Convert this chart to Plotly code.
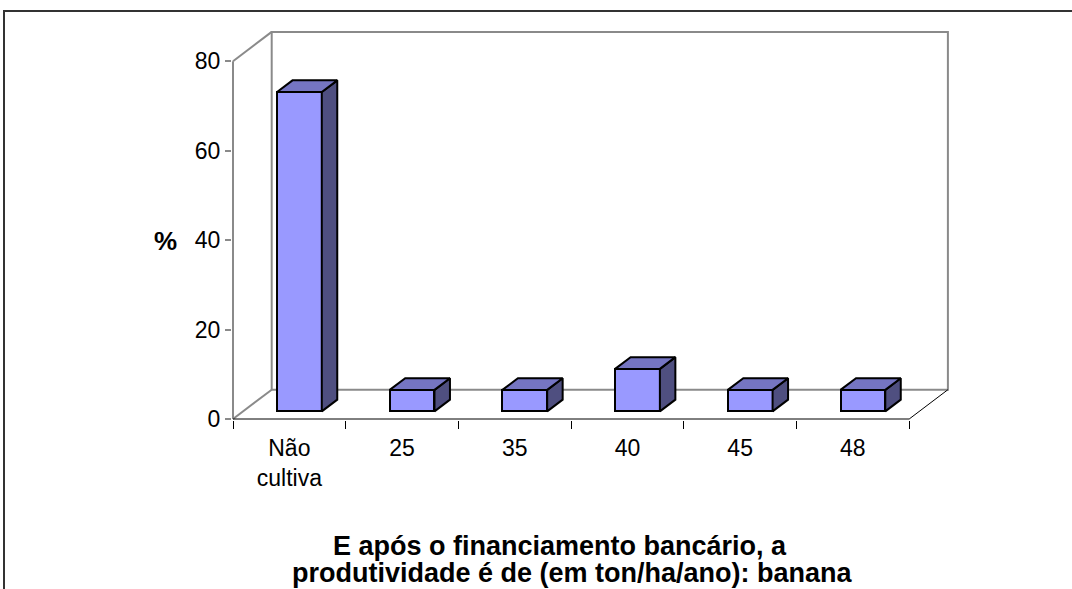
import numpy as np
import plotly.graph_objects as go

# ---- data ----
categories = ["Não<br>cultiva", "25", "35", "40", "45", "48"]
values = [71.4, 4.8, 4.8, 9.5, 4.8, 4.8]
y_ticks = [0, 20, 40, 60, 80]
title_lines = ["E após o financiamento bancário, a",
               "produtividade é de (em ton/ha/ano): banana"]
y_label = "%"

# ---- style / geometry ----
W, H = 1072, 589
PX_X = 112.7      # px per category
PX_Y = 4.4725     # px per % unit
L_PX, R_PX, T_PX, B_PX = 232, 1000, 25, 420
DX = 38.7 / PX_X   # wall depth (x units)
DY = 29.3 / PX_Y   # wall depth (y units)
F = 0.26           # bar front depth fraction
D = 0.40           # bar depth fraction
BW = 0.397         # bar width
FRONT = "#9999FF"
TOP = "#7575C2"
SIDE = "#4F4F80"
GRAY = "#8A8A8A"
FONT = "Liberation Sans, Arial, sans-serif"

n = len(categories)
xc = np.arange(n, dtype=float)
ymax = max(y_ticks)

x0_range = -0.5 - (233 - L_PX) / PX_X
x1_range = -0.5 + (R_PX - 233) / PX_X
y0_range = -(B_PX - 419) / PX_Y
y1_range = (419 - T_PX) / PX_Y


def px2paper_x(px):
    return (px - L_PX) / (R_PX - L_PX)


def px2paper_y(py):
    return (B_PX - py) / (B_PX - T_PX)


fig = go.Figure()

# side and top faces
base = F * DY
ddx, ddy = D * DX, D * DY
top_x, top_y, side_x, side_y = [], [], [], []
for i, v in enumerate(values):
    xa = xc[i] + F * DX - BW / 2
    xb = xa + BW
    t = base + v
    top_x += [xa, xb, xb + ddx, xa + ddx, xa, None]
    top_y += [t, t, t + ddy, t + ddy, t, None]
    side_x += [xb, xb, xb + ddx, xb + ddx, xb, None]
    side_y += [base, t, t + ddy, base + ddy, base, None]

fig.add_trace(go.Bar(
    x=xc + F * DX, y=values, base=base, width=BW,
    marker=dict(color=FRONT, line=dict(color="black", width=2)),
    hoverinfo="skip", showlegend=False))
fig.add_trace(go.Scatter(
    x=side_x, y=side_y, mode="lines", fill="toself", fillcolor=SIDE,
    line=dict(color="black", width=2), hoverinfo="skip", showlegend=False))
fig.add_trace(go.Scatter(
    x=top_x, y=top_y, mode="lines", fill="toself", fillcolor=TOP,
    line=dict(color="black", width=2), hoverinfo="skip", showlegend=False))

xl, xr = -0.5, n - 0.5
shapes = [
    # back wall
    dict(type="rect", xref="x", yref="y", x0=xl + DX, x1=xr + DX, y0=DY, y1=ymax + DY,
         line=dict(color=GRAY, width=2), layer="below"),
    # value axis line
    dict(type="line", xref="x", yref="y", x0=xl, x1=xl, y0=0, y1=ymax,
         line=dict(color=GRAY, width=2), layer="below"),
    dict(type="line", xref="x", yref="y", x0=xl, x1=xl + DX, y0=ymax, y1=ymax + DY,
         line=dict(color=GRAY, width=2), layer="below"),
    dict(type="line", xref="x", yref="y", x0=xl, x1=xl + DX, y0=0, y1=DY,
         line=dict(color=GRAY, width=2), layer="below"),
    # floor front and right edge
    dict(type="line", xref="x", yref="y", x0=xl, x1=xr, y0=0, y1=0,
         line=dict(color="black", width=1), layer="below"),
    dict(type="line", xref="x", yref="y", x0=xr, x1=xr + DX, y0=0, y1=DY,
         line=dict(color="black", width=1), layer="below"),
    # outer chart border
    dict(type="rect", xref="paper", yref="paper",
         x0=px2paper_x(4), x1=px2paper_x(1200), y0=px2paper_y(700), y1=px2paper_y(11),
         line=dict(color="#333333", width=2), layer="below"),
]

annotations = [
    dict(text="<b>%s</b>" % y_label, xref="paper", yref="paper",
         x=px2paper_x(165), y=px2paper_y(241), showarrow=False,
         xanchor="center", yanchor="middle",
         font=dict(family=FONT, size=26, color="black")),
    dict(text="<b>%s</b>" % title_lines[0], xref="paper", yref="paper",
         x=px2paper_x(560), y=px2paper_y(546), showarrow=False,
         xanchor="center", yanchor="middle",
         font=dict(family=FONT, size=27, color="black")),
    dict(text="<b>%s</b>" % title_lines[1], xref="paper", yref="paper",
         x=px2paper_x(572), y=px2paper_y(573), showarrow=False,
         xanchor="center", yanchor="middle",
         font=dict(family=FONT, size=27, color="black")),
]

fig.update_layout(
    width=W, height=H, autosize=False,
    margin=dict(l=L_PX, r=W - R_PX, t=T_PX, b=H - B_PX, pad=0),
    paper_bgcolor="white", plot_bgcolor="white",
    font=dict(family=FONT, size=23, color="black"),
    shapes=shapes, annotations=annotations,
    bargap=0, hovermode=False,
    xaxis=dict(range=[x0_range, x1_range], tickmode="array", tickvals=list(xc),
               ticktext=categories, ticks="", showgrid=False, zeroline=False,
               showline=False, ticklabelstandoff=12, automargin=False,
               tickfont=dict(family=FONT, size=23, color="black"),
               minor=dict(tickmode="array", tickvals=[xl + k for k in range(n + 1)],
                          ticks="outside", ticklen=8, tickcolor="black", tickwidth=1,
                          showgrid=False)),
    yaxis=dict(range=[y0_range, y1_range], tickmode="array", tickvals=y_ticks,
               ticks="outside", ticklen=6, tickcolor=GRAY, tickwidth=2,
               showgrid=False, zeroline=False, showline=False, automargin=False,
               tickfont=dict(family=FONT, size=23, color="black")),
)

fig.write_html("out.html")
